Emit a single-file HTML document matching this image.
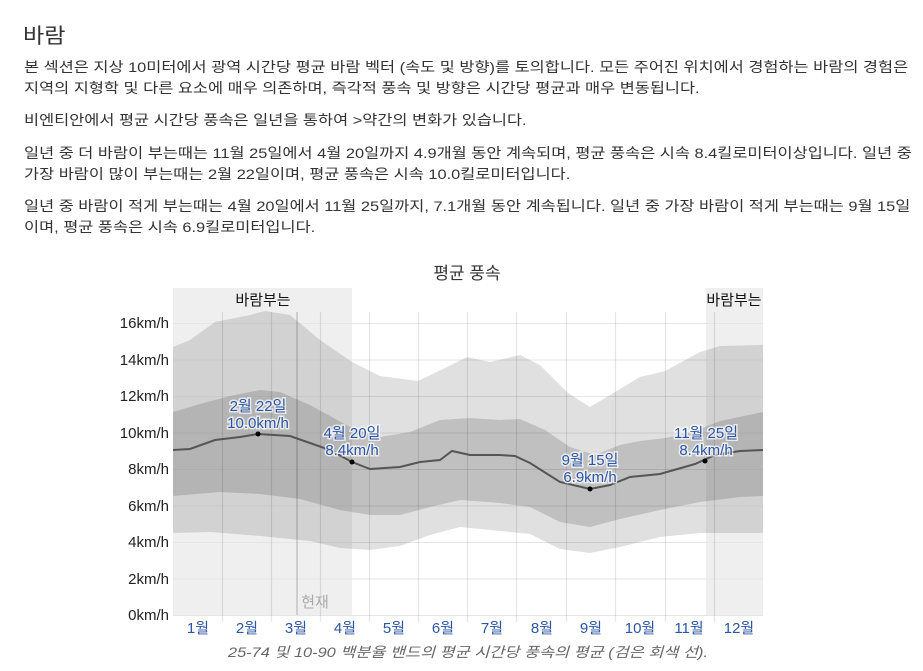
<!DOCTYPE html>
<html><head><meta charset="utf-8"><style>
body{margin:0;background:#fff;width:923px;height:671px;overflow:hidden;font-family:"Liberation Sans","Noto Sans CJK KR",sans-serif;color:#333;position:relative}
h2{position:absolute;left:23px;top:20px;margin:0;font-weight:normal;font-size:21px;color:#333;transform:scaleX(1.1);transform-origin:left}
.p{position:absolute;left:24px;font-size:14px;line-height:21px;white-space:nowrap;color:#333;transform:scaleX(1.17);transform-origin:left top}
svg{position:absolute;left:0;top:0}
</style></head><body>
<h2>바람</h2>
<div class="p" style="top:57px">본 섹션은 지상 10미터에서 광역 시간당 평균 바람 벡터 (속도 및 방향)를 토의합니다. 모든 주어진 위치에서 경험하는 바람의 경험은<br>지역의 지형학 및 다른 요소에 매우 의존하며, 즉각적 풍속 및 방향은 시간당 평균과 매우 변동됩니다.</div>
<div class="p" style="top:110px">비엔티안에서 평균 시간당 풍속은 일년을 통하여 &gt;약간의 변화가 있습니다.</div>
<div class="p" style="top:143px">일년 중 더 바람이 부는때는 11월 25일에서 4월 20일까지 4.9개월 동안 계속되며, 평균 풍속은 시속 8.4킬로미터이상입니다. 일년 중<br>가장 바람이 많이 부는때는 2월 22일이며, 평균 풍속은 시속 10.0킬로미터입니다.</div>
<div class="p" style="top:196px">일년 중 바람이 적게 부는때는 4월 20일에서 11월 25일까지, 7.1개월 동안 계속됩니다. 일년 중 가장 바람이 적게 부는때는 9월 15일<br>이며, 평균 풍속은 시속 6.9킬로미터입니다.</div>
<svg width="923" height="671" font-family="Liberation Sans, Noto Sans CJK KR, sans-serif">
<rect x="173" y="288" width="179" height="327" fill="#efefef"/>
<rect x="706" y="288" width="57" height="327" fill="#efefef"/>
<g stroke="#e6e6e6" stroke-width="1">
<line x1="173" x2="763" y1="615.5" y2="615.5"/><line x1="173" x2="763" y1="579" y2="579"/><line x1="173" x2="763" y1="542.5" y2="542.5"/><line x1="173" x2="763" y1="506" y2="506"/><line x1="173" x2="763" y1="469.5" y2="469.5"/><line x1="173" x2="763" y1="433" y2="433"/><line x1="173" x2="763" y1="396.5" y2="396.5"/><line x1="173" x2="763" y1="360" y2="360"/><line x1="173" x2="763" y1="323.5" y2="323.5"/>
</g>
<polygon fill="rgba(0,0,0,0.12)" points="173,347 190,340 215,322 250,315 265,311 290,315 320,340 352,362 380,376 418,381 445,368 467,357 490,362 520,355 540,365 568,393 590,407 615,392 640,377 665,371 700,352 720,346 763,345 763,533 730,533 700,533 660,537 620,547 590,553 560,549 530,534 490,530 460,527 430,535 400,546 370,550 340,548 310,541 260,536 210,532 173,533"/>
<polygon fill="rgba(0,0,0,0.14)" points="173,412 200,404 230,396 260,390 280,392 310,405 352,428 380,437 410,432 440,420 470,418 500,420 520,419 545,430 570,447 595,455 620,445 640,441 665,438 690,433 720,421 763,412 763,496 740,497 700,502 660,510 620,519 590,527 560,522 530,507 500,503 460,500 430,507 400,515 370,515 340,510 300,499 260,494 220,492 173,496"/>
<g stroke="rgba(0,0,0,0.1)" stroke-width="1.2">
<line x1="222.5" x2="222.5" y1="312" y2="622"/><line x1="271.5" x2="271.5" y1="312" y2="622"/><line x1="320.5" x2="320.5" y1="312" y2="622"/><line x1="369.5" x2="369.5" y1="312" y2="622"/><line x1="418.5" x2="418.5" y1="312" y2="622"/><line x1="467.5" x2="467.5" y1="312" y2="622"/><line x1="516.5" x2="516.5" y1="312" y2="622"/><line x1="566.5" x2="566.5" y1="312" y2="622"/><line x1="615.5" x2="615.5" y1="312" y2="622"/><line x1="665.5" x2="665.5" y1="312" y2="622"/><line x1="714.5" x2="714.5" y1="312" y2="622"/>
</g>
<line x1="297" x2="297" y1="312" y2="615" stroke="rgba(0,0,0,0.18)" stroke-width="1.5"/>
<polyline fill="none" stroke="#555" stroke-width="2" points="173,450 190,449 215,440 240,437 258,434 290,436 310,443 330,450 352,462 370,469 400,467 420,462 440,460 452,451 470,455 500,455 515,456 530,463 560,482 590,489 610,485 630,477 660,474 695,464 715,455 740,451 763,450"/>
<circle cx="258" cy="434" r="2.5" fill="#000"/><circle cx="352" cy="462" r="2.5" fill="#000"/><circle cx="590" cy="489" r="2.5" fill="#000"/><circle cx="705" cy="461" r="2.5" fill="#000"/>
<g font-size="15" fill="#2a55a5" text-anchor="middle" stroke="#fff" stroke-width="3" paint-order="stroke" stroke-opacity="0.7">
<text x="258" y="411">2월 22일</text><text x="258" y="428">10.0km/h</text>
<text x="352" y="438">4월 20일</text><text x="352" y="455">8.4km/h</text>
<text x="590" y="465">9월 15일</text><text x="590" y="482">6.9km/h</text>
<text x="706" y="438">11월 25일</text><text x="706" y="455">8.4km/h</text>
</g>
<text x="467" y="279" font-size="17" fill="#333" text-anchor="middle">평균 풍속</text>
<text x="263" y="305" font-size="15" fill="#111" text-anchor="middle">바람부는</text>
<text x="734" y="305" font-size="15" fill="#111" text-anchor="middle">바람부는</text>
<text x="315" y="607" font-size="15" fill="#aaa" text-anchor="middle">현재</text>
<g font-size="15" fill="#222" text-anchor="end">
<text x="169" y="620">0km/h</text><text x="169" y="584">2km/h</text><text x="169" y="547">4km/h</text><text x="169" y="511">6km/h</text><text x="169" y="474">8km/h</text><text x="169" y="438">10km/h</text><text x="169" y="401">12km/h</text><text x="169" y="365">14km/h</text><text x="169" y="328">16km/h</text>
</g>
<g font-size="15" fill="#2a55a5" text-anchor="middle">
<text x="198" y="633">1월</text><text x="247" y="633">2월</text><text x="296" y="633">3월</text><text x="345" y="633">4월</text><text x="394" y="633">5월</text><text x="443" y="633">6월</text><text x="492" y="633">7월</text><text x="542" y="633">8월</text><text x="591" y="633">9월</text><text x="640" y="633">10월</text><text x="689" y="633">11월</text><text x="739" y="633">12월</text>
</g>
<text x="228" y="657" font-size="14" fill="#666" font-style="italic" textLength="480" lengthAdjust="spacingAndGlyphs">25-74 및 10-90 백분율 밴드의 평균 시간당 풍속의 평균 (검은 회색 선).</text>
</svg>
</body></html>
